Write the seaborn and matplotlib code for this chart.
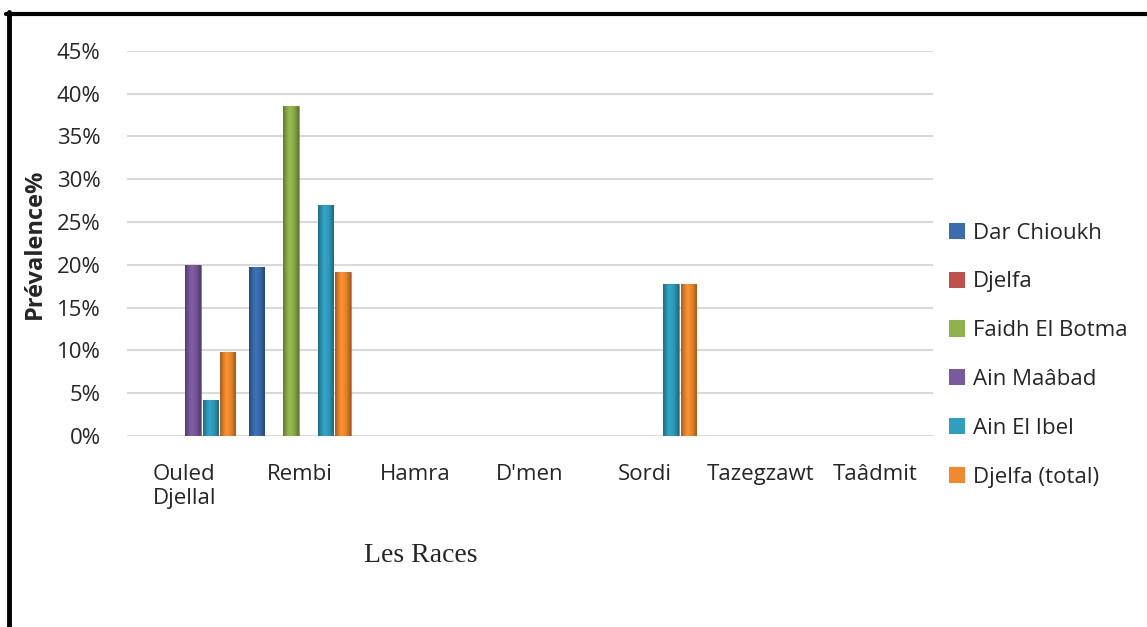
import pandas as pd
import numpy as np
import matplotlib
matplotlib.use("Agg")
import matplotlib.pyplot as plt
from matplotlib.lines import Line2D
from matplotlib.colors import to_rgb
from matplotlib.ticker import PercentFormatter
import seaborn as sns

# races (x categories) and sites (hue series)
races = ["Ouled Djellal", "Rembi", "Hamra", "D'men", "Sordi", "Tazegzawt", "Taâdmit"]
race_labels = ["Ouled\nDjellal", "Rembi", "Hamra", "D'men", "Sordi", "Tazegzawt", "Taâdmit"]
sites = ["Dar Chioukh", "Djelfa", "Faidh El Botma", "Ain Maâbad", "Ain El Ibel", "Djelfa (total)"]

# prevalence (fraction) per site, one value per race
dar_chioukh = [0.0, 0.197, 0.0, 0.0, 0.0, 0.0, 0.0]
djelfa = [0.0, 0.0, 0.0, 0.0, 0.0, 0.0, 0.0]
faidh_el_botma = [0.0, 0.386, 0.0, 0.0, 0.0, 0.0, 0.0]
ain_maabad = [0.200, 0.0, 0.0, 0.0, 0.0, 0.0, 0.0]
ain_el_ibel = [0.0425, 0.270, 0.0, 0.0, 0.177, 0.0, 0.0]
djelfa_total = [0.0986, 0.192, 0.0, 0.0, 0.177, 0.0, 0.0]

colors = ["#3a6db0", "#c0504d", "#8fb24a", "#7a5a9e", "#2f9ec0", "#f2892c"]

series = [dar_chioukh, djelfa, faidh_el_botma, ain_maabad, ain_el_ibel, djelfa_total]
df = pd.DataFrame({
    "Race": np.repeat([races], len(sites), axis=0).ravel(),
    "Site": np.repeat(sites, len(races)),
    "Prevalence": np.concatenate(series),
})

sns.set_style("white")
plt.rcParams["font.family"] = ["Open Sans", "DejaVu Sans"]

fig = plt.figure(figsize=(11.47, 6.27), dpi=100)
ax = fig.add_axes([0.1107, 0.3046, 0.7027, 0.6145])

sns.barplot(data=df, x="Race", y="Prevalence", hue="Site", order=races,
            hue_order=sites, palette=colors, width=0.9, gap=0.1,
            saturation=1, edgecolor="none", ax=ax, legend=True)

# bevel look: horizontal shading clipped to every visible bar
shade = np.array([0.72, 0.88, 1.0, 1.05, 1.0, 0.95, 0.85, 0.7])
for p in list(ax.patches):
    if p.get_height() <= 0:
        continue
    rgb = np.array(to_rgb(p.get_facecolor()))
    img = np.clip(shade[:, None] * rgb[None, :], 0, 1)[None, :, :]
    x0, y0 = p.get_x(), p.get_y()
    im = ax.imshow(img, extent=(x0, x0 + p.get_width(), y0, y0 + p.get_height()),
                   aspect="auto", interpolation="bilinear", zorder=p.get_zorder())
    im.set_clip_path(p)
    p.set_edgecolor((0, 0, 0, 0.3))
    p.set_linewidth(0.6)
ax.set_ylim(0, 0.45)
ax.set_xlim(-0.5, len(races) - 0.5)

ax.set_yticks(np.arange(0, 0.46, 0.05))
ax.yaxis.set_major_formatter(PercentFormatter(1.0, decimals=0))
ax.grid(axis="y", color="#d9d9d9", linewidth=1.5)
ax.set_axisbelow(True)
for s in ax.spines.values():
    s.set_visible(False)
ax.tick_params(axis="both", length=0, labelsize=16)
ax.tick_params(axis="y", pad=19)
ax.tick_params(axis="x", pad=20)
ax.set_xticks(range(len(races)))
ax.set_xticklabels(race_labels, multialignment="left")

ax.set_xlabel("")
ax.set_ylabel("Prévalence%", fontsize=17, fontweight="bold", labelpad=7)

fig.text(421 / 1147, 1 - 555 / 627, "Les Races", family="Liberation Serif",
         fontsize=20, ha="center", va="center")

ax.legend(loc="center left", bbox_to_anchor=(1.0, 0.21), frameon=False,
          fontsize=16, handlelength=0.75, handleheight=0.75,
          handletextpad=0.35, labelspacing=1.25, borderaxespad=0.3)

# frame lines on top and left of the figure
fig.add_artist(Line2D([6 / 1147, 1], [1 - 14 / 627, 1 - 14 / 627],
                      transform=fig.transFigure, color="black", linewidth=3))
fig.add_artist(Line2D([8.5 / 1147, 8.5 / 1147], [0, 1 - 12 / 627],
                      transform=fig.transFigure, color="black", linewidth=3.5))

fig.savefig("out.png", dpi=100)
